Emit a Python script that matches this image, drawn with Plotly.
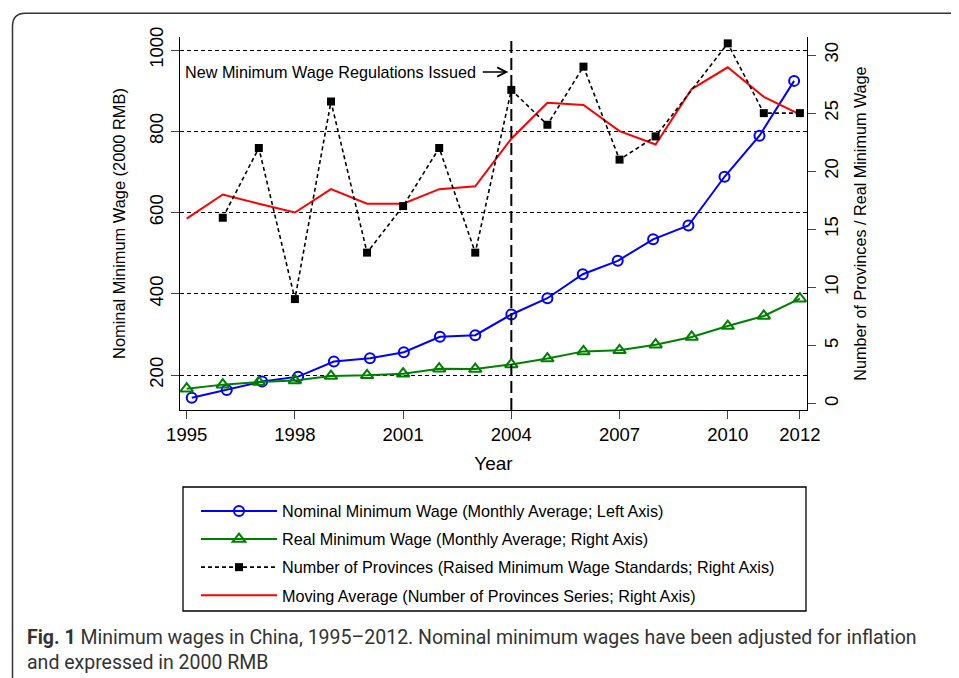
import plotly.graph_objects as go

# ---------------- data ----------------
years = list(range(1995, 2013))
nominal_x = [1995.14, 1996.11, 1997.09, 1998.09, 1999.08, 2000.08, 2001.02, 2002.02, 2003.0,
             2004.0, 2005.0, 2005.98, 2006.95, 2007.93, 2008.91, 2009.91, 2010.88, 2011.84]
nominal_wage = [144, 163, 184, 196, 233, 241, 256, 294, 298, 349, 389, 448, 481, 534, 568, 688, 789, 924]
real_wage = [1.29, 1.64, 1.86, 2.0, 2.38, 2.44, 2.58, 3.01, 2.98, 3.38, 3.88, 4.5, 4.59, 5.08, 5.74,
             6.68, 7.55, 9.04]
prov_years = [1996, 1997, 1998, 1999, 2000, 2001, 2002, 2003, 2004, 2005, 2006, 2007, 2008, 2010, 2011, 2012]
provinces = [16, 22, 9, 26, 13, 17, 22, 13, 27, 24, 29, 21, 23, 31, 25, 25]
moving_avg = [15.93, 18.0, 17.2, 16.45, 18.46, 17.2, 17.2, 18.46, 18.7, 22.8, 25.9, 25.7, 23.45, 22.3,
              27.07, 28.94, 26.4, 24.9]
x_ticks = [1995, 1998, 2001, 2004, 2007, 2010, 2012]
left_ticks = [200, 400, 600, 800, 1000]
right_ticks = [0, 5, 10, 15, 20, 25, 30]
reg_year = 2004

names = [
    "Nominal Minimum Wage (Monthly Average; Left Axis)",
    "Real Minimum Wage (Monthly Average; Right Axis)",
    "Number of Provinces (Raised Minimum Wage Standards; Right Axis)",
    "Moving Average (Number of Provinces Series; Right Axis)",
]
caption_bold = "Fig. 1"
caption_text = (" Minimum wages in China, 1995\u20132012. Nominal minimum wages have been adjusted for inflation"
                "<br>and expressed in 2000 RMB")

# ---------------- layout constants (screen pixels) ----------------
SW, SH = 959, 678          # browser window
OFF = 8                    # default page body margin
W, H = SW - OFF, SH - OFF  # figure size
PL, PR, PT, PB = 180, 807, 37, 410   # plot area edges in screen pixels
L, T = PL - OFF, PT - OFF
R, B = W - (PR - OFF), H - (PB - OFF)
PW, PH = PR - PL, PB - PT
FONT = "Liberation Sans, Arial, sans-serif"


def px(xs):
    return (xs - PL) / PW


def py(ys):
    return (PB - ys) / PH


fig = go.Figure()

fig.add_trace(go.Scatter(
    x=years, y=moving_avg, yaxis="y2", mode="lines", name=names[3],
    line=dict(color="#ff0000", width=2), legendrank=4, legendgroup="d"))
fig.add_trace(go.Scatter(
    x=prov_years, y=provinces, yaxis="y2", mode="lines+markers", name=names[2],
    line=dict(color="black", width=1.6, dash="4px,3px"),
    marker=dict(symbol="square", size=8, color="black"), legendrank=3, legendgroup="c"))
fig.add_trace(go.Scatter(
    x=years, y=real_wage, yaxis="y2", mode="lines+markers", name=names[1],
    line=dict(color="#008000", width=2),
    marker=dict(symbol="triangle-up-open", size=11, color="#008000", line=dict(width=2)),
    legendrank=2, legendgroup="b"))
fig.add_trace(go.Scatter(
    x=nominal_x, y=nominal_wage, mode="lines+markers", name=names[0],
    line=dict(color="#0000ff", width=2),
    marker=dict(symbol="circle-open", size=10, color="#0000ff", line=dict(width=2)),
    legendrank=1, legendgroup="a"))

x0 = 1995 - 6.7 / 36.07
x1 = x0 + PW / 36.07
fig.update_layout(
    width=W, height=H,
    margin=dict(l=L, r=R, t=T, b=B, pad=0),
    paper_bgcolor="white", plot_bgcolor="white",
    font=dict(family=FONT, color="black", size=15),
    showlegend=True,
    legend=dict(x=px(196), y=py(494), xanchor="left", yanchor="top",
                bgcolor="rgba(0,0,0,0)", borderwidth=0, font=dict(size=16.2, family=FONT),
                tracegroupgap=4, itemwidth=76, traceorder="grouped"),
    xaxis=dict(range=[x0, x1], tickmode="array", tickvals=x_ticks, ticks="outside", ticklen=8,
               tickwidth=1.3, showline=True, linecolor="black", linewidth=1.3, showgrid=False,
               zeroline=False, tickfont=dict(size=18.5), title=dict(text="Year", font=dict(size=19),
                                                                    standoff=12)),
    yaxis=dict(range=[200 - 35 / 0.40625, 1000 + 13 / 0.40625], tickmode="array", tickvals=left_ticks,
               ticks="outside", ticklen=8, tickwidth=1.3, showline=True, linecolor="black", linewidth=1.3,
               showgrid=True, gridcolor="black", gridwidth=1.3, griddash="4px,3px", zeroline=False,
               tickangle=-90, tickfont=dict(size=18.5),
               title=dict(text="Nominal Minimum Wage (2000 RMB)", font=dict(size=16.4), standoff=16)),
    yaxis2=dict(range=[-6.3 / 11.61, 30 + 18 / 11.61], overlaying="y", side="right", tickmode="array",
                tickvals=right_ticks, ticks="outside", ticklen=8, tickwidth=1.3, showline=True,
                linecolor="black", linewidth=1.3, showgrid=False, zeroline=False, tickangle=-90,
                tickfont=dict(size=18.5),
                title=dict(text="Number of Provinces / Real Minimum Wage", font=dict(size=16.2), standoff=13)),
)

# vertical regulation line
fig.add_shape(type="line", xref="x", yref="paper", x0=reg_year, x1=reg_year, y0=0, y1=1,
              line=dict(color="black", width=2, dash="12px,5px"))

# annotation with arrow
fig.add_annotation(x=px(478), y=py(72), xref="paper", yref="paper", xanchor="right", yanchor="middle",
                   text="New Minimum Wage Regulations Issued", showarrow=False,
                   font=dict(size=16.2, family=FONT))
fig.add_annotation(x=reg_year, y=py(72), xref="x", yref="paper", text="", showarrow=True,
                   ax=-30, ay=0, axref="pixel", ayref="pixel", arrowhead=5, arrowsize=1.2,
                   arrowwidth=1.5, arrowcolor="black", standoff=3)

# legend box
fig.add_shape(type="rect", xref="paper", yref="paper", x0=px(183), x1=px(806), y0=py(611), y1=py(487),
              line=dict(color="black", width=1.3), fillcolor="rgba(0,0,0,0)")

# outer frame with rounded corner
r = 13
fl, ft = 12.5, 13.3
path = (f"M {px(fl)},{py(SH + 5)} L {px(fl)},{py(ft + r)} "
        f"Q {px(fl)},{py(ft)} {px(fl + r)},{py(ft)} L {px(SW + 5)},{py(ft)}")
fig.add_shape(type="path", xref="paper", yref="paper", path=path,
              line=dict(color="#333333", width=1.5))

# caption
fig.add_annotation(x=px(25), y=py(624), xref="paper", yref="paper", xanchor="left", yanchor="top",
                   align="left", showarrow=False,
                   text=f"<b>{caption_bold}</b>{caption_text}",
                   font=dict(size=19.5, family="Roboto, Liberation Sans, sans-serif", color="#333333"))

fig.write_html("out.html")
